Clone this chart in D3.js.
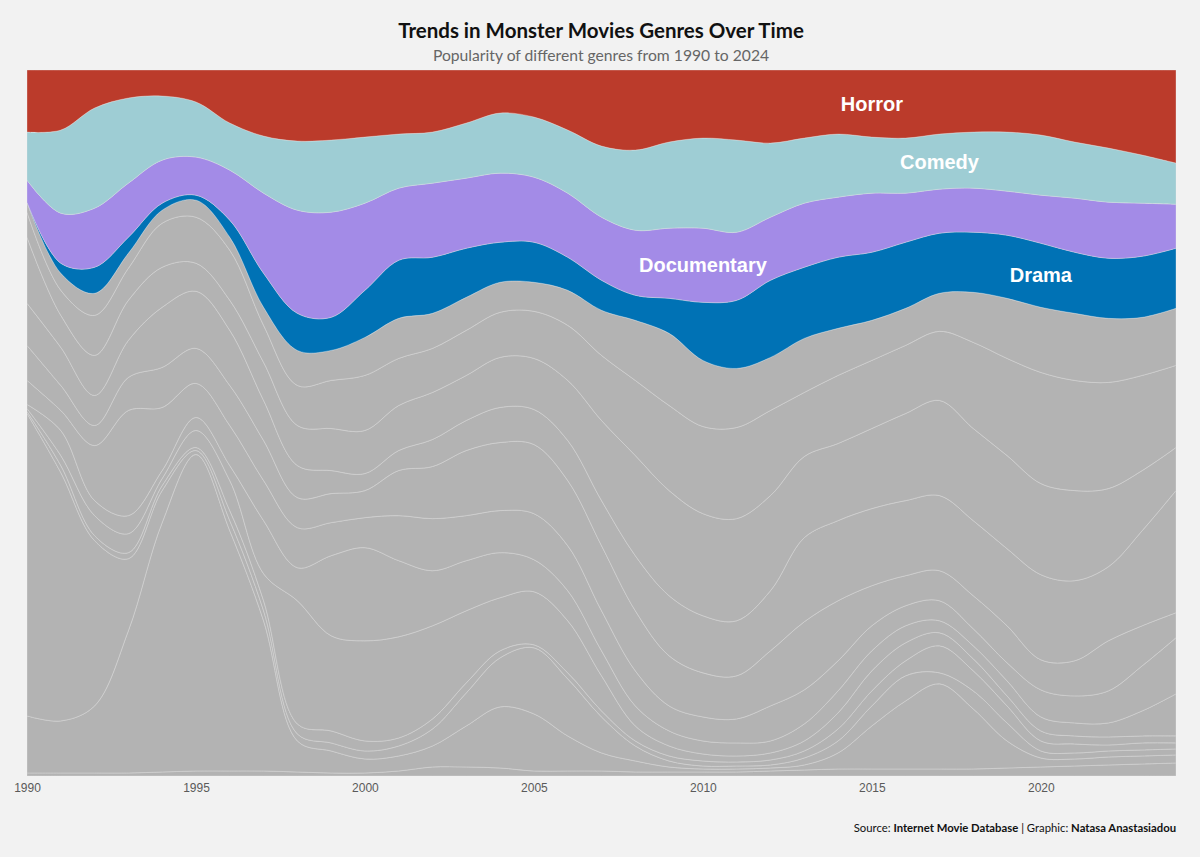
<!DOCTYPE html>
<html>
<head>
<meta charset="utf-8">
<script src="https://cdnjs.cloudflare.com/ajax/libs/d3/7.8.5/d3.min.js"></script>
<style>
	body { margin: 0; background: #f2f2f2; }
	svg { display: block; }
	.axis text { font-family: "Liberation Sans", Arial, sans-serif; font-size: 12px; fill: #5a5a5a; }
	.title { font-family: Lato, "Open Sans", sans-serif; font-weight: 700; font-size: 20.5px; fill: #111; }
	.subtitle { font-family: Lato, "Open Sans", sans-serif; font-size: 15.7px; fill: #666; }
	.caption { font-family: Lato, "Open Sans", sans-serif; font-size: 11.3px; fill: #111; }
	.label { font-family: "Liberation Sans", Arial, sans-serif; font-weight: 700; font-size: 20px; fill: #fff; }
</style>
</head>
<body>
<svg id="chart" width="1200" height="857"></svg>
<script>

// relative popularity per year (normalised by the stack)
var years = [1990,1991,1992,1993,1994,1995,1996,1997,1998,1999,2000,2001,2002,2003,2004,2005,2006,
	2007,2008,2009,2010,2011,2012,2013,2014,2015,2016,2017,2018,2019,2020,2021,2022,2023,2024];

var horror      = [62,60,38,28,26,32,53,66,71,70,67,64,62,53,43,47,60,76,80,72,68,70,73,68,64,67,68,64,62,62,65,72,78,85,93];
var comedy      = [48,83,100,85,64,55,47,57,69,72,66,54,51,55,60,60,63,71,80,86,90,92,74,65,63,56,55,55,56,59,60,56,54,48,41];
var documentary = [22,50,59,54,43,38,50,80,103,105,87,72,74,70,69,65,64,63,65,70,74,68,63,64,60,59,49,44,44,44,48,54,56,53,44];
var drama       = [0,10,26,16,7,5,17,34,37,33,47,58,56,49,40,40,33,30,25,35,58,68,77,71,71,68,66,60,60,63,64,61,60,61,60];

// the remaining genres, drawn in grey (top to bottom)
var other01 = [10,17,22,15,13,17,13,18,35,30,38,40,35,33,30,29,35,45,60,72,66,59,53,54,47,40,37,38,50,60,65,67,64,58,57];
var other02 = [25,25,40,32,44,46,50,37,40,48,55,47,44,45,45,47,55,65,75,85,87,91,85,64,68,68,68,69,86,97,111,110,106,95,82];
var other03 = [66,32,40,40,40,28,30,38,40,42,43,45,47,45,50,51,60,80,100,105,102,102,95,81,77,80,87,95,92,93,91,90,78,60,43];
var other04 = [42,38,30,37,60,57,55,40,32,23,17,20,27,30,35,35,40,45,55,60,57,55,60,84,80,77,75,75,75,77,85,80,74,95,122];
var other05 = [35,25,20,33,40,35,40,40,30,29,27,45,52,65,68,69,65,65,60,50,44,43,55,68,60,40,30,30,33,37,30,35,50,40,25];
var other06 = [24,20,55,105,63,34,40,40,40,33,30,45,52,45,42,46,45,40,35,25,24,24,35,34,30,25,20,20,17,18,27,27,32,45,56];
var other07 = [4,25,15,18,8,13,15,53,33,80,93,76,55,50,45,32,30,25,20,15,13,13,12,17,22,20,17,12,13,15,14,13,14,25,42];
var other08 = [3,10,20,19,7,17,30,27,123,95,100,101,93,72,53,53,52,35,15,10,7,6,7,10,16,20,18,13,12,10,10,8,8,7,7];
var other09 = [2,7,5,6,5,3,10,10,10,12,10,8,10,10,7,3,6,6,5,5,5,4,5,7,12,15,15,27,20,17,10,9,6,7,6];
var other10 = [302,248,165,72,32,4,10,10,7,8,8,10,17,33,49,66,57,36,15,6,3,3,3,7,12,20,25,11,18,18,7,6,6,6,6];
var other11 = [57,52,67,142,249,316,240,150,31,22,14,15,21,41,61,57,35,18,11,5,3,3,3,5,16,43,68,85,60,27,9,7,8,8,8];
var other12 = [3,3,3,3,4,5,5,5,4,3,3,5,9,9,8,5,5,5,4,4,4,4,5,6,7,7,7,7,7,8,9,10,11,12,13];

var tickYears = [1990,1995,2000,2005,2010,2015,2020];

var series = [
	{key: "other12", values: other12}, {key: "other11", values: other11},
	{key: "other10", values: other10}, {key: "other09", values: other09},
	{key: "other08", values: other08}, {key: "other07", values: other07},
	{key: "other06", values: other06}, {key: "other05", values: other05},
	{key: "other04", values: other04}, {key: "other03", values: other03},
	{key: "other02", values: other02}, {key: "other01", values: other01},
	{key: "Drama", values: drama}, {key: "Documentary", values: documentary},
	{key: "Comedy", values: comedy}, {key: "Horror", values: horror}
];

var colors = {Horror: "#bb3b2b", Comedy: "#9ecdd4", Documentary: "#a38be7", Drama: "#0072b5"};
var labelYears = {Horror: 2015, Comedy: 2017, Documentary: 2010, Drama: 2020};

var margin = {top: 70, right: 24, bottom: 81, left: 27},
	width = 1200 - margin.left - margin.right,
	height = 857 - margin.top - margin.bottom;

var table = years.map(function(yr, i) {
	var row = {year: yr};
	series.forEach(function(s) { row[s.key] = s.values[i]; });
	return row;
});

var x = d3.scaleLinear().domain([1990, 2024]).range([0, width]),
	y = d3.scaleLinear().domain([0, 1]).range([height, 0]);

var stack = d3.stack()
	.keys(series.map(function(s) { return s.key; }))
	.offset(d3.stackOffsetExpand);

var layers = stack(table);

var area = d3.area()
	.curve(d3.curveCatmullRom.alpha(0.5))
	.x(function(d) { return x(d.data.year); })
	.y0(function(d) { return y(d[0]); })
	.y1(function(d) { return y(d[1]); });

var svg = d3.select("#chart");

var g = svg.append("g")
	.attr("transform", "translate(" + margin.left + "," + margin.top + ")");

g.append("clipPath")
	.attr("id", "plot-clip")
	.append("rect")
	.attr("width", width)
	.attr("height", height);

g.append("g")
	.attr("clip-path", "url(#plot-clip)")
	.selectAll(".layer")
	.data(layers)
	.enter().append("path")
	.attr("class", "layer")
	.attr("d", area)
	.attr("fill", function(d) { return colors[d.key] || "#b3b3b3"; })
	.attr("stroke", function(d) { return colors[d.key] ? "#e4e4e4" : "#d3d3d3"; })
	.attr("stroke-opacity", function(d) { return colors[d.key] ? 0.6 : 1; })
	.attr("stroke-width", 0.6);

// genre labels sit in the middle of their band
g.selectAll(".label")
	.data(layers.filter(function(d) { return colors[d.key]; }))
	.enter().append("text")
	.attr("class", "label")
	.attr("text-anchor", "middle")
	.attr("dy", "0.36em")
	.attr("x", function(d) { return x(labelYears[d.key]); })
	.attr("y", function(d) {
		var p = d[years.indexOf(labelYears[d.key])];
		return y((p[0] + p[1]) / 2);
	})
	.text(function(d) { return d.key; });

g.append("g")
	.attr("class", "axis")
	.attr("transform", "translate(0," + height + ")")
	.call(d3.axisBottom(x).tickValues(tickYears).tickFormat(d3.format("d")).tickSize(0).tickPadding(7))
	.call(function(a) { a.select(".domain").remove(); });

svg.append("text")
	.attr("class", "title")
	.attr("x", 601).attr("y", 38)
	.attr("text-anchor", "middle")
	.text("Trends in Monster Movies Genres Over Time");

svg.append("text")
	.attr("class", "subtitle")
	.attr("x", 601).attr("y", 61)
	.attr("text-anchor", "middle")
	.text("Popularity of different genres from 1990 to 2024");

var cap = svg.append("text")
	.attr("class", "caption")
	.attr("x", 1176).attr("y", 832)
	.attr("text-anchor", "end");
cap.append("tspan").text("Source: ");
cap.append("tspan").attr("font-weight", 700).text("Internet Movie Database");
cap.append("tspan").text(" | Graphic: ");
cap.append("tspan").attr("font-weight", 700).text("Natasa Anastasiadou");

</script>
</body>
</html>
